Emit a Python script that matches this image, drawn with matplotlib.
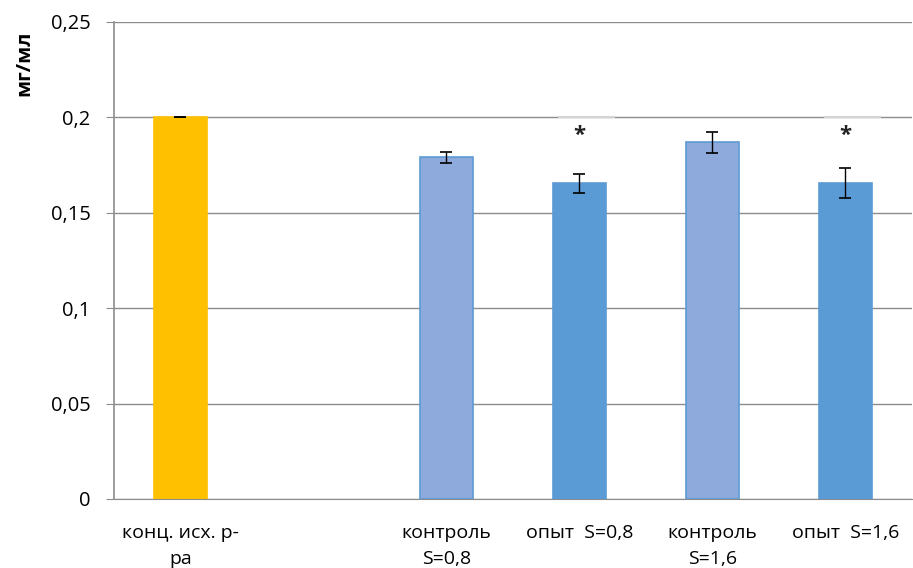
import matplotlib.pyplot as plt

plt.rcParams['font.family'] = ['Open Sans', 'DejaVu Sans']

# Data
labels = ["конц. исх. р-\nра", "", "контроль\nS=0,8", "опыт  S=0,8",
          "контроль\nS=1,6", "опыт  S=1,6"]
values = [0.2, 0, 0.179, 0.1655, 0.187, 0.1655]
errors = [0.0, 0, 0.003, 0.005, 0.0055, 0.008]
colors = ["#FFC000", "none", "#8EA9DB", "#5B9BD5", "#8EA9DB", "#5B9BD5"]
edges = ["#FFC000", "none", "#5B9BD5", "#5B9BD5", "#5B9BD5", "#5B9BD5"]
signif = [3, 5]          # bars marked with *
signif_line = 0.2
star_y = 0.1905

fig = plt.figure(figsize=(9.13, 5.68), dpi=100)
ax = fig.add_axes([0.1248, 0.1215, 0.874, 0.8398])

x = list(range(len(labels)))
ax.bar(x, values, width=0.4, color=colors, edgecolor=edges, linewidth=1.2, zorder=3)
for i in x:
    if labels[i] == "":
        continue
    ax.errorbar(i, values[i], yerr=errors[i], fmt='none', ecolor='black',
                elinewidth=1, capsize=4.5, capthick=1.2, zorder=4)

for i in signif:
    ax.plot([i - 0.16, i + 0.27], [signif_line, signif_line], color='#d4d4d4',
            linewidth=1.5, zorder=2.5, solid_capstyle='butt')
    ax.text(i, star_y, "*", ha='center', va='center', fontsize=16,
            fontweight='bold', color='#222222', zorder=5)

ax.set_ylim(0, 0.25)
ax.set_xlim(-0.5, 5.5)
ax.set_yticks([0, 0.05, 0.1, 0.15, 0.2, 0.25])
ax.set_yticklabels(["0", "0,05", "0,1", "0,15", "0,2", "0,25"], fontsize=14.5)
ax.set_xticks(x)
ax.set_xticklabels(labels, fontsize=14, linespacing=1.6)
ax.tick_params(axis='x', length=0, pad=18)
ax.tick_params(axis='y', length=5.8, color='#8c8c8c', pad=11)
ax.set_ylabel("мг/мл", fontsize=14.5, fontweight='bold')
ax.yaxis.set_label_coords(-0.100, 0.914)

ax.grid(axis='y', color='#8c8c8c', linewidth=1, zorder=0)
for s in ['top', 'right']:
    ax.spines[s].set_visible(False)
ax.spines['left'].set_color('#8c8c8c')
ax.spines['bottom'].set_color('#8c8c8c')
ax.spines['left'].set_linewidth(1.2)

fig.savefig("out.png", dpi=100)
